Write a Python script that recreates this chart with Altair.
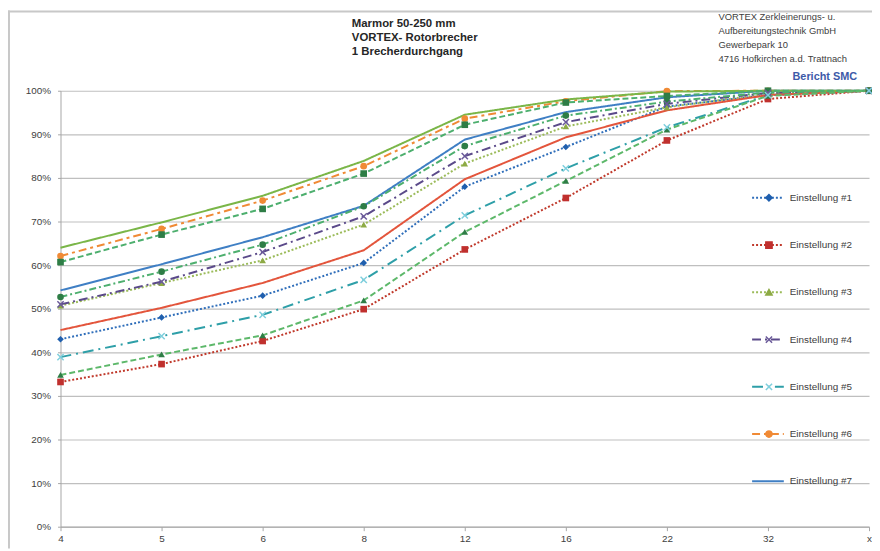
import altair as alt
import pandas as pd

# ---- data ----
sizes = ["4", "5", "6", "8", "12", "16", "22", "32", "x"]

e1 = [43.0, 48.0, 53.0, 60.5, 78.0, 87.1, 96.4, 99.0, 100]
e2 = [33.2, 37.3, 42.6, 49.9, 63.6, 75.4, 88.6, 98.1, 100]
e3 = [50.7, 55.9, 61.1, 69.3, 83.3, 91.8, 96.2, 99.3, 100]
e4 = [51.0, 56.2, 63.0, 71.2, 85.0, 92.8, 97.0, 99.5, 100]
e5 = [38.9, 43.7, 48.6, 56.6, 71.4, 82.2, 91.6, 99.0, 100]
e6 = [62.1, 68.3, 74.8, 82.7, 93.6, 97.6, 99.9, 100, 100]
e7 = [54.2, 60.2, 66.4, 73.6, 88.8, 95.1, 98.5, 100, 100]
e8 = [45.1, 50.2, 55.9, 63.4, 79.7, 89.3, 95.5, 99.0, 100]
e9 = [64.0, 69.8, 75.9, 83.9, 94.5, 98.0, 99.8, 100, 100]
e10 = [60.7, 67.0, 72.9, 81.0, 92.2, 97.3, 98.8, 100, 100]
e11 = [52.7, 58.5, 64.7, 73.5, 87.3, 94.3, 97.5, 99.6, 100]
e12 = [34.8, 39.5, 43.9, 51.9, 67.6, 79.3, 91.1, 98.8, 100]

series_names = [f"Einstellung #{i}" for i in range(1, 13)]
series_values = [e1, e2, e3, e4, e5, e6, e7, e8, e9, e10, e11, e12]
legend_names = series_names[:7]

title_lines = ["Marmor 50-250 mm", "VORTEX- Rotorbrecher", "1 Brecherdurchgang"]
company_lines = ["VORTEX Zerkleinerungs- u.", " Aufbereitungstechnik GmbH",
                 "Gewerbepark 10", "4716 Hofkirchen a.d. Trattnach"]
report_label = "Bericht SMC"

rows = []
for name, vals in zip(series_names, series_values):
    for s, v in zip(sizes, vals):
        rows.append({"size": s, "series": name, "value": v / 100.0})
df = pd.DataFrame(rows)

# ---- styles ----
line_colors = ["#2F6EBA", "#C0392B", "#9BBB59", "#5B4A8A", "#2E9FA8", "#F08A35",
               "#3F7FC4", "#E3553C", "#7AB648", "#4DAF6E", "#4DAF6E", "#5DB86A"]
dashes = [[2, 2], [2, 2], [2, 2], [9, 4, 2, 4], [11, 5, 2, 5], [8, 4, 3, 4],
          [1, 0], [1, 0], [1, 0], [6, 3], [7, 3, 2, 3], [6, 3]]
widths = [2, 2, 2, 2.5, 2.5, 2.5, 2, 2, 2, 1.5, 1.5, 1.5]

XPATH = "M-1,-1L1,1M-1,1L1,-1"
filled_series = ["Einstellung #1", "Einstellung #2", "Einstellung #3", "Einstellung #6",
                 "Einstellung #10", "Einstellung #11", "Einstellung #12"]
filled_shapes = ["diamond", "square", "triangle-up", "circle", "square", "circle", "triangle-up"]
filled_colors = ["#1F5FAE", "#C0302E", "#8DAA45", "#F08A35", "#2E7D46", "#2E7D46", "#2E7D46"]
x_series = ["Einstellung #4", "Einstellung #5"]
x_colors = ["#6B5A9A", "#7FCFDD"]

# markers shown inside the legend symbols
legend_shapes = ["diamond", "square", "triangle-up", XPATH, XPATH, "circle", "M0,0"]
legend_fills = ["#1F5FAE", "#C0302E", "#8DAA45", "transparent", "transparent", "#F08A35", "transparent"]
legend_strokes = ["#1F5FAE", "#C0302E", "#8DAA45", "#6B5A9A", "#7FCFDD", "#F08A35", "transparent"]

font = "Liberation Sans"
gray_text = "#404040"

x_enc = alt.X("size:N", sort=sizes,
              scale=alt.Scale(type="point", padding=0, domain=sizes),
              axis=alt.Axis(title=None, labelAngle=0, labelFontSize=10, labelColor=gray_text,
                            labelFont=font, domainColor="#A6A6A6", tickColor="#A6A6A6",
                            tickSize=4, labelPadding=3, grid=False))
y_enc = alt.Y("value:Q",
              scale=alt.Scale(domain=[0, 1], nice=False),
              axis=alt.Axis(title=None, format=".0%", values=[i / 10 for i in range(11)],
                            labelFontSize=10, labelColor=gray_text, labelFont=font,
                            domainColor="#A6A6A6", tickColor="#A6A6A6", tickSize=3,
                            labelPadding=7, gridColor="#BFBFBF", gridWidth=1.2))

leg = alt.Legend(values=legend_names, title=None, orient="none", legendX=697, legendY=102,
                 symbolType="stroke", symbolSize=1024, symbolStrokeWidth=2,
                 labelFontSize=10, labelFont=font, labelColor=gray_text,
                 clipHeight=12, rowPadding=35.7, labelOffset=5, padding=0)

mleg = alt.Legend(title=None, orient="none", legendX=710, legendY=102,
                  symbolSize=40, symbolStrokeWidth=1.5, symbolOpacity=1,
                  labelFontSize=10, labelExpr="''", labelFont=font,
                  clipHeight=12, rowPadding=35.7, labelOffset=0, padding=0)

lines = alt.Chart(df).mark_line().encode(
    x=x_enc, y=y_enc,
    color=alt.Color("series:N", scale=alt.Scale(domain=series_names, range=line_colors), legend=leg),
    strokeDash=alt.StrokeDash("series:N", scale=alt.Scale(domain=series_names, range=dashes), legend=leg),
    strokeWidth=alt.StrokeWidth("series:N", scale=alt.Scale(domain=series_names, range=widths), legend=None),
    detail="series:N",
)

pts_filled = alt.Chart(df).transform_filter(
    alt.FieldOneOfPredicate(field="series", oneOf=filled_series)
).mark_point(filled=True, size=45, opacity=1).encode(
    x=alt.X("size:N", sort=sizes, scale=alt.Scale(type="point", padding=0, domain=sizes)),
    y=alt.Y("value:Q"),
    shape=alt.Shape("series:N", scale=alt.Scale(domain=filled_series, range=filled_shapes), legend=None),
    fill=alt.Fill("series:N", scale=alt.Scale(domain=filled_series, range=filled_colors), legend=None),
)

pts_x = alt.Chart(df).transform_filter(
    alt.FieldOneOfPredicate(field="series", oneOf=x_series)
).mark_point(filled=False, size=40, strokeWidth=1.5, shape=XPATH, opacity=1).encode(
    x=alt.X("size:N", sort=sizes, scale=alt.Scale(type="point", padding=0, domain=sizes)),
    y=alt.Y("value:Q"),
    stroke=alt.Stroke("series:N", scale=alt.Scale(domain=x_series, range=x_colors), legend=None),
)

# invisible layer that only supplies the marker symbols of the legend
legend_markers = alt.Chart(df).transform_filter(
    alt.FieldOneOfPredicate(field="series", oneOf=legend_names)
).mark_point(opacity=0).encode(
    x=alt.X("size:N", sort=sizes, scale=alt.Scale(type="point", padding=0, domain=sizes)),
    y=alt.Y("value:Q"),
    shape=alt.Shape("series:N", scale=alt.Scale(domain=legend_names, range=legend_shapes), legend=mleg),
    fill=alt.Fill("series:N", scale=alt.Scale(domain=legend_names, range=legend_fills), legend=mleg),
    stroke=alt.Stroke("series:N", scale=alt.Scale(domain=legend_names, range=legend_strokes), legend=mleg),
)

one = alt.Data(values=[{}])

def text_layer(txt, x, y, size=9, bold=False, color=gray_text, align="left"):
    return alt.Chart(one).mark_text(
        text=txt, fontSize=size, font=font, fontWeight="bold" if bold else "normal",
        color=color, align=align, baseline="middle"
    ).encode(x=alt.value(x), y=alt.value(y))

texts = []
for i, t in enumerate(title_lines):
    texts.append(text_layer(t, 294, -67 + 14 * i, size=11.5, bold=True, color="#262626"))
for i, t in enumerate(company_lines):
    texts.append(text_layer(t, 664, -74 + 14 * i, size=9.5))
texts.append(text_layer(report_label, 804, -14, size=11, bold=True, color="#3D5AA8", align="right"))

frame = [
    alt.Chart(one).mark_rule(color="#C8C8C8", strokeWidth=2).encode(
        x=alt.value(-53), x2=alt.value(819), y=alt.value(-80)),
    alt.Chart(one).mark_rule(color="#C8C8C8", strokeWidth=2).encode(
        x=alt.value(-52), y=alt.value(-81), y2=alt.value(462)),
]

chart = alt.layer(lines, pts_filled, pts_x, legend_markers, *texts, *frame).resolve_scale(
    shape="independent", fill="independent", stroke="independent"
).properties(
    width=816, height=440,
    background="white",
    autosize=alt.AutoSizeParams(type="none"),
    padding={"left": 53, "top": 81, "right": 3, "bottom": 20},
).configure_view(stroke=None)

chart.save("out.html", embed_options={"renderer": "svg", "actions": False})
